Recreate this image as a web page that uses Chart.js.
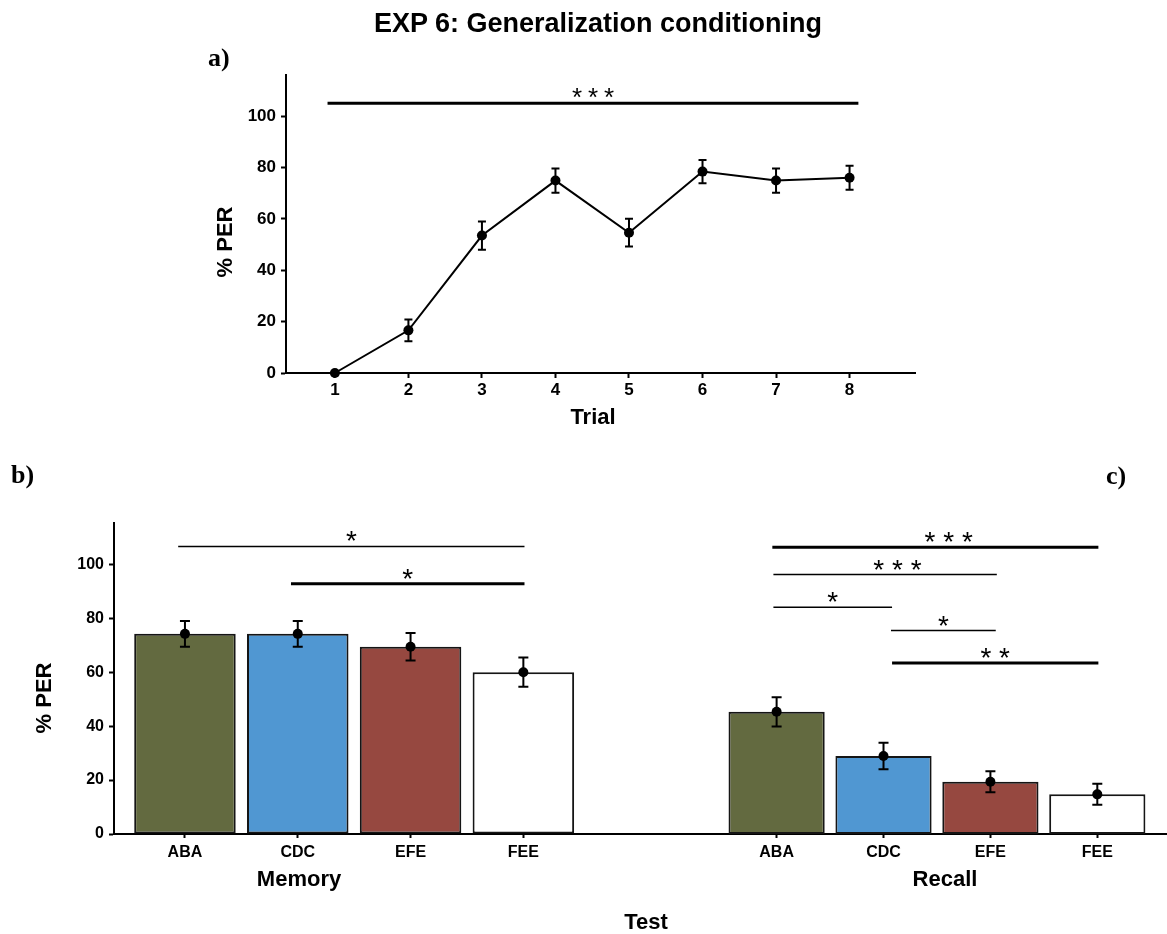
<!DOCTYPE html>
<html>
<head>
<meta charset="utf-8">
<script src="https://cdn.jsdelivr.net/npm/chart.js@4.4.1/dist/chart.umd.min.js"></script>
<style>
html,body{margin:0;padding:0;background:#fff;}
body{width:1167px;height:934px;position:relative;overflow:hidden;font-family:'Liberation Sans',Arial,sans-serif;}
canvas{position:absolute;}
.t{position:absolute;white-space:nowrap;font-weight:bold;color:#000;line-height:1;}
.c{transform:translateX(-50%);}
.serif{font-family:'Liberation Serif','Times New Roman',serif;}
.rot{transform:translate(-50%,-50%) rotate(-90deg);}
</style>
</head>
<body>
<canvas id="cA" width="1167" height="460" style="left:0;top:0;"></canvas>
<canvas id="cB" width="640" height="474" style="left:0;top:460px;"></canvas>
<canvas id="cC" width="527" height="474" style="left:640px;top:460px;"></canvas>

<div class="t c" style="left:598px;top:10px;font-size:27px;">EXP 6: Generalization conditioning</div>
<div class="t serif" style="left:208px;top:45px;font-size:26px;">a)</div>
<div class="t serif" style="left:11px;top:462px;font-size:26px;">b)</div>
<div class="t serif" style="left:1106px;top:463px;font-size:26px;">c)</div>
<div class="t rot" style="left:225px;top:242px;font-size:22px;">% PER</div>
<div class="t c" style="left:593px;top:406px;font-size:22px;">Trial</div>
<div class="t rot" style="left:44px;top:698px;font-size:22px;">% PER</div>
<div class="t c" style="left:299px;top:868px;font-size:22px;">Memory</div>
<div class="t c" style="left:945px;top:868px;font-size:22px;">Recall</div>
<div class="t c" style="left:646px;top:911px;font-size:22px;">Test</div>

<script>
// ---------- data ----------
const trials = [1, 2, 3, 4, 5, 6, 7, 8];
const trialPER = [0, 16.6, 53.5, 74.9, 54.6, 78.4, 74.9, 76.0];
const trialSEM = [0, 4.2, 5.5, 4.7, 5.4, 4.5, 4.7, 4.7];
const perTicks = [0, 20, 40, 60, 80, 100];

const testGroups = ['ABA', 'CDC', 'EFE', 'FEE'];
const memoryPER = [74.2, 74.2, 69.4, 60.0];
const memorySEM = [4.8, 4.8, 5.1, 5.4];
const recallPER = [45.3, 28.9, 19.4, 14.7];
const recallSEM = [5.4, 4.9, 3.9, 3.9];

// significance brackets (from/to in group-index units, y in % PER)
const trialSig = [{from: 0.9, to: 8.12, y: 105, label: '***'}];
const memorySig = [
  {from: -0.06, to: 3.01, y: 106.6, label: '*'},
  {from: 0.94, to: 3.01, y: 92.8, label: '*'}
];
const recallSig = [
  {from: -0.04, to: 3.01, y: 106.3, label: '***', at: 1.61},
  {from: -0.03, to: 2.06, y: 96.2, label: '***', at: 1.13},
  {from: -0.03, to: 1.08, y: 84.1, label: '*'},
  {from: 1.07, to: 2.05, y: 75.4, label: '*'},
  {from: 1.08, to: 3.01, y: 63.4, label: '**'}
];

// ---------- styles ----------
const FAMILY = "'Liberation Sans', Arial, sans-serif";
const groupColors = ['#636a40', '#5097d2', '#964840', '#ffffff'];
const trialSigWidths = [3];
const memorySigWidths = [1.5, 3];
const recallSigWidths = [3, 1.5, 1.5, 1.5, 3];

function errorBarPlugin(xs, ys, errs, cap) {
  return {
    id: 'errbars',
    afterDatasetsDraw(chart) {
      const {ctx, scales: {x, y}} = chart;
      ctx.save();
      ctx.strokeStyle = '#000';
      ctx.lineWidth = 2;
      xs.forEach((xv, i) => {
        if (!errs[i]) return;
        const px = x.getPixelForValue(xv);
        const top = y.getPixelForValue(ys[i] + errs[i]);
        const bot = y.getPixelForValue(ys[i] - errs[i]);
        ctx.beginPath();
        ctx.moveTo(px, top); ctx.lineTo(px, bot);
        ctx.moveTo(px - cap, top); ctx.lineTo(px + cap, top);
        ctx.moveTo(px - cap, bot); ctx.lineTo(px + cap, bot);
        ctx.stroke();
      });
      ctx.restore();
    }
  };
}

function sigPlugin(items, widths, gap, fontPx, baseOff) {
  return {
    id: 'sig',
    afterDraw(chart) {
      const {ctx, scales: {x, y}} = chart;
      ctx.save();
      items.forEach((b, i) => {
        const x1 = x.getPixelForValue(b.from);
        const x2 = x.getPixelForValue(b.to);
        const py = y.getPixelForValue(b.y);
        ctx.strokeStyle = '#000';
        ctx.lineWidth = widths[i];
        ctx.beginPath();
        ctx.moveTo(x1, py); ctx.lineTo(x2, py);
        ctx.stroke();
        const cx = (b.at !== undefined) ? x.getPixelForValue(b.at) : (x1 + x2) / 2;
        ctx.font = fontPx + 'px ' + FAMILY;
        ctx.fillStyle = '#000';
        ctx.textAlign = 'center';
        ctx.textBaseline = 'alphabetic';
        const n = b.label.length;
        for (let k = 0; k < n; k++) {
          ctx.fillText('*', cx + (k - (n - 1) / 2) * gap, py + baseOff);
        }
      });
      ctx.restore();
    }
  };
}

function axisStyle(tickLen) {
  return {
    grid: {drawOnChartArea: false, drawTicks: true, offset: false, tickLength: tickLen, tickWidth: 2, tickColor: '#000', color: '#000'},
    border: {display: true, color: '#000', width: 2}
  };
}

const commonOpts = {
  responsive: false,
  animation: false,
  events: [],
  plugins: {legend: {display: false}, tooltip: {enabled: false}, title: {display: false}}
};

// ---------- a) trial curve ----------
new Chart(document.getElementById('cA'), {
  type: 'line',
  data: {
    datasets: [{
      data: trials.map((t, i) => ({x: t, y: trialPER[i]})),
      borderColor: '#000', borderWidth: 2, tension: 0,
      pointRadius: 5, pointBackgroundColor: '#000', pointBorderColor: '#000', pointBorderWidth: 0,
      clip: false
    }]
  },
  options: Object.assign({}, commonOpts, {
    layout: {autoPadding: false, padding: {left: 216, right: 252, top: 75, bottom: 42}},
    scales: {
      x: Object.assign(axisStyle(5), {
        type: 'linear', min: 0.335, max: 8.89,
        afterFit: s => { s.height = 45; },
        afterBuildTicks: s => { s.ticks = trials.map(v => ({value: v})); },
        ticks: {color: '#000', font: {family: FAMILY, size: 17, weight: 'bold'}, padding: 2, maxRotation: 0, autoSkip: false}
      }),
      y: Object.assign(axisStyle(5), {
        type: 'linear', min: 0, max: 116,
        afterFit: s => { s.width = 70; },
        afterBuildTicks: s => { s.ticks = perTicks.map(v => ({value: v})); },
        ticks: {color: '#000', font: {family: FAMILY, size: 17, weight: 'bold'}, padding: 5}
      })
    }
  }),
  plugins: [errorBarPlugin(trials, trialPER, trialSEM, 4), sigPlugin(trialSig, trialSigWidths, 16, 26, 3)]
});

// ---------- b) / c) bar panels ----------
function barPanel(canvasId, values, errs, sig, sigWidths, xMin, xMax, showY, padLeft) {
  const idx = testGroups.map((_, i) => i);
  return new Chart(document.getElementById(canvasId), {
    type: 'bar',
    data: {
      datasets: [
        {
          type: 'line', order: 0, showLine: false, clip: false,
          data: idx.map(i => ({x: i, y: values[i]})),
          pointRadius: 5, pointBackgroundColor: '#000', pointBorderColor: '#000', pointBorderWidth: 0
        },
        {
          type: 'bar', order: 1,
          data: idx.map(i => ({x: i, y: values[i]})),
          backgroundColor: groupColors, borderColor: '#151515', borderWidth: 2, borderSkipped: false,
          barPercentage: 0.9, categoryPercentage: 1
        }
      ]
    },
    options: Object.assign({}, commonOpts, {
      layout: {autoPadding: false, padding: {left: padLeft, right: 0, top: 63, bottom: 60}},
      scales: {
        x: Object.assign(axisStyle(4), {
          type: 'linear', min: xMin, max: xMax, offset: false,
          afterFit: s => { s.height = 40; },
          afterBuildTicks: s => { s.ticks = idx.map(v => ({value: v})); },
          ticks: {color: '#000', font: {family: FAMILY, size: 16, weight: 'bold'}, padding: 5, maxRotation: 0, autoSkip: false,
                  callback: v => testGroups[v]}
        }),
        y: Object.assign(axisStyle(5), {
          type: 'linear', min: 0, max: 115.3, display: showY,
          afterFit: s => { if (showY) s.width = 70; },
          afterBuildTicks: s => { s.ticks = perTicks.map(v => ({value: v})); },
          ticks: {color: '#000', font: {family: FAMILY, size: 16, weight: 'bold'}, padding: 5}
        })
      }
    }),
    plugins: [errorBarPlugin(idx, values, errs, 5), sigPlugin(sig, sigWidths, 18.7, 28, 4)]
  });
}

barPanel('cB', memoryPER, memorySEM, memorySig, memorySigWidths, -0.629, 4.034, true, 44);
barPanel('cC', recallPER, recallSEM, recallSig, recallSigWidths, -1.278, 3.652, false, 0);
</script>
</body>
</html>
